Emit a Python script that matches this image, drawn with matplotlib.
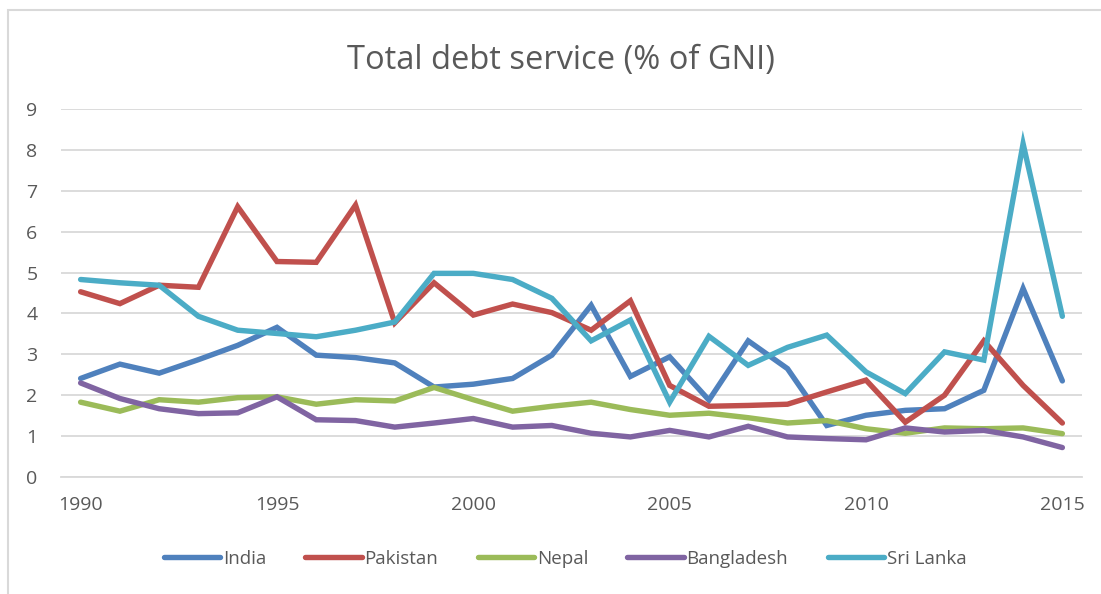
import matplotlib.pyplot as plt
from matplotlib.patches import Rectangle

years = list(range(1990, 2016))

india = [2.41, 2.76, 2.54, 2.87, 3.22, 3.66, 2.98, 2.92, 2.79, 2.20, 2.27, 2.41, 2.98,
         4.20, 2.46, 2.94, 1.88, 3.33, 2.65, 1.26, 1.51, 1.63, 1.67, 2.12, 4.61, 2.35]
pakistan = [4.53, 4.24, 4.69, 4.64, 6.61, 5.27, 5.25, 6.65, 3.77, 4.75, 3.96, 4.23, 4.02,
            3.59, 4.31, 2.24, 1.73, 1.75, 1.78, 2.08, 2.37, 1.34, 2.00, 3.33, 2.24, 1.32]
nepal = [1.83, 1.61, 1.89, 1.83, 1.94, 1.96, 1.78, 1.89, 1.86, 2.19, 1.89, 1.61, 1.73,
         1.83, 1.65, 1.51, 1.56, 1.45, 1.32, 1.38, 1.18, 1.07, 1.20, 1.18, 1.20, 1.06]
bangladesh = [2.30, 1.92, 1.67, 1.55, 1.57, 1.96, 1.40, 1.38, 1.22, 1.32, 1.43, 1.22, 1.26,
              1.07, 0.98, 1.14, 0.98, 1.24, 0.98, 0.94, 0.91, 1.20, 1.10, 1.14, 0.98, 0.72]
sri_lanka = [4.83, 4.75, 4.69, 3.93, 3.59, 3.51, 3.43, 3.59, 3.79, 4.98, 4.98, 4.83, 4.37,
             3.33, 3.84, 1.83, 3.44, 2.73, 3.17, 3.47, 2.57, 2.04, 3.06, 2.86, 8.15, 3.93]

series = [
    ("India", india, "#4F81BD"),
    ("Pakistan", pakistan, "#C0504D"),
    ("Nepal", nepal, "#9BBB59"),
    ("Bangladesh", bangladesh, "#8064A2"),
    ("Sri Lanka", sri_lanka, "#4BACC6"),
]

plt.rcParams['font.family'] = ['Open Sans', 'DejaVu Sans']

W, H = 1101, 594
fig = plt.figure(figsize=(W / 100, H / 100), dpi=100)
ax = fig.add_axes([61 / W, 1 - 477 / H, (1082 - 61) / W, (477 - 109) / H])

# light frame round the chart area (runs off the right and bottom edges)
fig.patches.append(Rectangle((8 / W, -0.1), 1.2, 1.1 - 10 / H,
                             transform=fig.transFigure, fill=False,
                             edgecolor="#D9D9D9", linewidth=1.5))

for name, vals, color in series:
    ax.plot(years, vals, color=color, linewidth=3.9, label=name,
            solid_joinstyle="miter", solid_capstyle="round")

ax.set_xlim(1989.5, 2015.5)
ax.set_ylim(0, 9)
ax.set_yticks(range(0, 10))
ax.set_xticks(range(1990, 2016, 5))
ax.grid(axis="y", color="#D9D9D9", linewidth=1.3)
ax.set_axisbelow(True)
for side in ["top", "right", "left"]:
    ax.spines[side].set_visible(False)
ax.spines["bottom"].set_color("#D9D9D9")
ax.spines["bottom"].set_linewidth(1.3)
ax.tick_params(length=0, labelsize=14, colors="#595959")
ax.tick_params(axis="y", pad=17)
ax.tick_params(axis="x", pad=14)

fig.text(561 / W, 1 - 61 / H, "Total debt service (% of GNI)", ha="center", va="center",
         fontsize=23.5, color="#595959")

fig.legend(loc="center", bbox_to_anchor=(565 / W, 1 - 559 / H), ncol=5, frameon=False,
           fontsize=13.5, handlelength=3.0, handletextpad=0.15, columnspacing=2.1,
           labelcolor="#595959")

fig.savefig("out.png", dpi=100)
